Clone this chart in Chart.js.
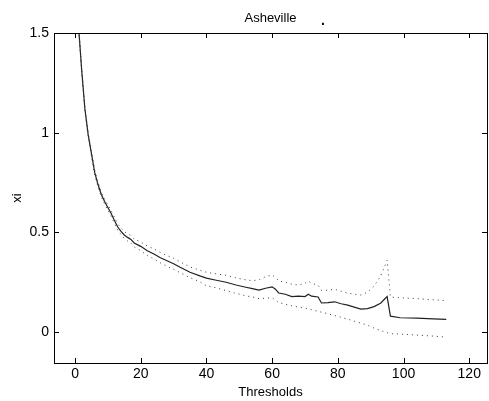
<!DOCTYPE html>
<html>
<head>
<meta charset="utf-8">
<script src="https://cdn.jsdelivr.net/npm/chart.js@4/dist/chart.umd.min.js"></script>
<style>
html,body{margin:0;padding:0;background:#fff;}
#wrap{width:489px;height:401px;position:relative;}
</style>
</head>
<body>
<div id="wrap"><canvas id="c" width="489" height="401"></canvas></div>
<script>
const titleText = "Asheville";
const strayMark = ".";
const xLabel = "Thresholds";
const yLabel = "xi";
const xTicks = [0, 20, 40, 60, 80, 100, 120];
const yTicks = [0, 0.5, 1, 1.5];

const thresholds = [1,2,3,4,5,6,7,8,9,10,11,12,13,14,15,16,17,18,
  20,22,24,26,28,30,32,35,38,40,43,46,49,52,54,56,58,60,
  61,62,64,66,68,70,71,72,74,75,77,79,81,83,85,87,89,91,93,95,96,
  99,104,109,113];

const xiEstimate = [1.55,1.32,1.12,0.99,0.895,0.80,0.74,0.69,0.655,0.625,0.595,0.56,0.527,0.505,0.487,0.475,0.465,0.447,
  0.43,0.408,0.392,0.373,0.358,0.343,0.325,0.30,0.282,0.271,0.26,0.25,0.236,0.225,0.218,0.211,0.22,0.227,
  0.215,0.196,0.19,0.178,0.18,0.178,0.19,0.18,0.176,0.146,0.148,0.152,0.142,0.135,0.125,0.115,0.118,0.128,0.145,0.178,0.08,
  0.072,0.07,0.066,0.064];

const xiUpper = [1.56,1.33,1.13,1.0,0.907,0.812,0.752,0.702,0.667,0.638,0.609,0.575,0.543,0.521,0.504,0.493,0.484,0.467,
  0.452,0.432,0.417,0.399,0.384,0.37,0.352,0.327,0.31,0.30,0.292,0.285,0.272,0.262,0.258,0.262,0.278,0.286,
  0.275,0.256,0.25,0.24,0.236,0.245,0.256,0.245,0.235,0.21,0.21,0.215,0.205,0.196,0.19,0.186,0.2,0.23,0.28,0.36,0.176,
  0.172,0.168,0.162,0.158];

const xiLower = [1.54,1.31,1.11,0.98,0.883,0.788,0.728,0.678,0.643,0.612,0.581,0.545,0.511,0.489,0.47,0.457,0.446,0.427,
  0.408,0.384,0.367,0.347,0.33,0.315,0.298,0.273,0.252,0.232,0.222,0.208,0.194,0.182,0.176,0.168,0.17,0.172,
  0.16,0.148,0.14,0.132,0.125,0.12,0.117,0.112,0.104,0.1,0.092,0.083,0.074,0.065,0.055,0.045,0.035,0.02,0.008,-0.003,-0.008,
  -0.01,-0.015,-0.02,-0.025];

const toPts = arr => thresholds.map((t, i) => ({x: t, y: arr[i]}));
const FONT = "'Liberation Sans', Arial, sans-serif";

const frame = {
  id: 'frame',
  afterDraw(chart) {
    const {ctx, chartArea: a, scales} = chart;
    ctx.save();
    ctx.strokeStyle = '#000';
    ctx.lineWidth = 1;
    ctx.strokeRect(a.left + 0.5, a.top + 0.5, a.right - a.left, a.bottom - a.top);
    const L = 5;
    ctx.beginPath();
    xTicks.forEach(v => {
      const px = Math.round(scales.x.getPixelForValue(v)) + 0.5;
      ctx.moveTo(px, a.bottom); ctx.lineTo(px, a.bottom - L);
      ctx.moveTo(px, a.top); ctx.lineTo(px, a.top + L);
    });
    yTicks.forEach(v => {
      const py = Math.round(scales.y.getPixelForValue(v)) + 0.5;
      ctx.moveTo(a.left, py); ctx.lineTo(a.left + L, py);
      ctx.moveTo(a.right, py); ctx.lineTo(a.right - L, py);
    });
    ctx.stroke();
    ctx.fillStyle = '#000';
    ctx.font = '13px ' + FONT;
    ctx.textAlign = 'center';
    ctx.textBaseline = 'middle';
    ctx.fillText(titleText, (a.left + a.right) / 2, 18.5);
    ctx.font = 'bold 14px ' + FONT;
    ctx.textBaseline = 'alphabetic';
    ctx.fillText(strayMark, 323, 25);
    ctx.restore();
  }
};

new Chart(document.getElementById('c'), {
  type: 'line',
  data: {
    datasets: [
      {data: toPts(xiUpper), borderColor: '#3a3a3a', borderWidth: 1, borderDash: [1, 4], pointRadius: 0, tension: 0, fill: false},
      {data: toPts(xiLower), borderColor: '#3a3a3a', borderWidth: 1, borderDash: [1, 4], pointRadius: 0, tension: 0, fill: false},
      {data: toPts(xiEstimate), borderColor: '#222', borderWidth: 1.2, pointRadius: 0, tension: 0, fill: false}
    ]
  },
  options: {
    responsive: false,
    animation: false,
    devicePixelRatio: 1,
    layout: {padding: {left: 0, right: 2, top: 33, bottom: 0}},
    plugins: {
      legend: {display: false},
      tooltip: {enabled: false},
      title: {display: false}
    },
    scales: {
      x: {
        type: 'linear', min: -6.4, max: 125.4,
        grid: {display: false, drawTicks: false},
        border: {display: false},
        afterBuildTicks: s => { s.ticks = xTicks.map(v => ({value: v})); },
        afterFit: s => { s.height = 38; },
        ticks: {color: '#000', padding: 3, font: {family: FONT, size: 14}, callback: v => String(v)},
        title: {display: true, text: xLabel, color: '#000', font: {family: FONT, size: 13}, padding: {top: 0, bottom: 1}}
      },
      y: {
        type: 'linear', min: -0.155, max: 1.5,
        grid: {display: false, drawTicks: false},
        border: {display: false},
        afterBuildTicks: s => { s.ticks = yTicks.map(v => ({value: v})); },
        afterFit: s => { s.width = 54; },
        ticks: {color: '#000', padding: 5, font: {family: FONT, size: 14}, callback: v => String(v)},
        title: {display: true, text: yLabel, color: '#000', font: {family: FONT, size: 13}, padding: {top: 10, bottom: 0}}
      }
    }
  },
  plugins: [frame]
});
</script>
</body>
</html>
